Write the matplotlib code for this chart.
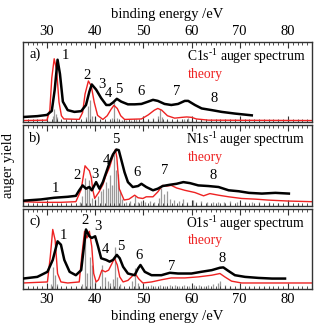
import numpy as np
import matplotlib.pyplot as plt
from matplotlib.ticker import MultipleLocator

plt.rcParams['font.family'] = ['Liberation Serif', 'DejaVu Serif']
plt.rcParams['mathtext.fontset'] = 'custom'
plt.rcParams['mathtext.rm'] = 'Liberation Serif'
plt.rcParams['mathtext.it'] = 'Liberation Serif:italic'

# ---- C1s^-1 spectrum ----
c_exp_e = [25, 28, 30, 31.0, 31.6, 32.2, 32.7, 33.3, 34.3, 35.7, 37.1, 38.1, 38.8, 39.3,
           40.2, 41.25, 42.3, 43.0, 43.7, 44.5, 45.4, 46.8, 48.2, 49.6, 51.0, 52.0, 53.0,
           54.4, 55.8, 57.2, 58.6, 59.3, 60.7, 62.1, 64.2, 66.25, 69.0, 72.5]
c_exp_y = [6.4, 7.5, 9, 14, 40, 77.8, 60, 25.6, 15, 12.8, 13.7, 21.4, 38, 47,
           40.6, 29.9, 21.4, 21.4, 24.4, 29.1, 25.6, 22.2, 22.2, 22.7, 25.6, 27.8, 26.5,
           22.7, 21.4, 22.7, 26.5, 26.5, 21.4, 17.1, 15, 12.8, 10.7, 8.5]
c_th_e = [25, 30.0, 30.6, 31.0, 31.5, 32.0, 32.5, 33.0, 33.5, 36.7, 37.4, 37.9, 38.6, 39.2,
          39.8, 40.5, 41.6, 42.5, 43.3, 43.9, 44.6, 45.3, 46.1, 49.6, 51.0, 52.3, 53.0,
          53.8, 55.0, 56.5, 58.0, 59.0, 60.0, 61.0, 63.5, 85]
c_th_y = [2, 2.5, 15, 55, 79, 65, 25, 8, 4, 3.5, 12, 35, 51.3, 45,
          25, 8.5, 3.4, 8, 16, 21, 17, 8, 3.4, 4, 9, 15, 17.1,
          15, 8, 5, 6, 6.5, 6, 4, 2.5, 2]
c_stick_e = [31.2, 31.5, 31.8, 32.1, 38.2, 38.6, 39.0, 39.4, 40.0, 43.5, 44.0, 44.6,
             45.5, 46.5, 47.5, 48.5, 50.0, 51.0, 52.0, 53.0, 53.4, 53.9, 55.0, 57.0,
             58.5, 59.3, 60.0, 62.0, 64.0, 66.0]
c_stick_h = [8, 17, 10, 6, 6, 20, 28, 8, 6, 5, 25, 5,
             3, 3, 3, 4, 3, 4, 5, 8, 17, 6, 3, 3,
             4, 5, 3, 3, 2, 2]

# ---- N1s^-1 spectrum ----
n_exp_e = [25, 28.75, 31.5, 34.3, 36.0, 36.7, 37.4, 38.1, 38.8, 39.3, 40.2, 40.9, 41.6,
           42.3, 43.0, 43.7, 44.4, 44.9, 45.4, 46.1, 46.8, 47.8, 48.9, 49.6, 50.6, 52.0,
           53.0, 54.0, 55.5, 56.9, 58.3, 59.7, 61.4, 63.5, 65.6, 67.7, 69.8, 71.9, 74.6,
           77.4, 80.2]
n_exp_y = [6.1, 7.7, 9.8, 11, 12.2, 19.1, 25.2, 21.1, 23.2, 19.1, 29.3, 21.1, 29.3,
           41.5, 53.7, 63.8, 69.9, 69.1, 57.7, 41.5, 29.3, 23.2, 24.4, 27.2, 23.2, 19.1,
           21.1, 24.4, 26, 27.2, 29.3, 28, 25.2, 24.4, 23.2, 19.1, 17.9, 15.9, 15,
           15.9, 15]
n_th_e = [25, 28.75, 32.9, 36.0, 37.1, 37.5, 37.9, 38.4, 38.8, 39.2, 39.5, 39.9, 40.8,
          41.6, 42.2, 43.0, 43.7, 44.2, 44.5, 45.0, 46.0, 47.0, 48.2, 48.9, 49.9, 50.6,
          52.0, 53.0, 54.0, 54.8, 55.8, 56.9, 58.6, 60.7, 62.5, 63.8, 65.6, 67.7, 70.4,
          73.2, 75.9, 80.1, 85]
n_th_y = [4.9, 4.1, 4.1, 4.9, 20, 35, 49.6, 46, 43.5, 35, 20, 9, 17,
          26, 37, 48, 62, 69.9, 60, 21, 7, 8, 13, 9.8, 8.9, 11,
          11, 17.1, 25.2, 24.4, 25.2, 22, 19.1, 16.3, 12.2, 15, 13, 11, 8.9,
          8.1, 6.9, 5.7, 4.9]
n_stick_e = [36.8, 37.3, 37.8, 38.3, 38.8, 39.3, 40.0, 40.6, 41.2, 41.7, 42.2, 42.6,
             43.1, 43.5, 44.0, 44.3, 44.7, 45.1, 45.6, 46.3, 47.2, 48.2, 48.8, 49.6,
             50.4, 51.3, 52.2, 53.2, 53.7, 54.2, 55.0, 55.6, 56.4, 57.3, 58.2, 59.1,
             60.2, 61.0, 62.0, 63.2, 64.4, 65.5, 66.8, 68.0, 69.5, 71.0, 72.5, 74.0,
             76.0, 78.0, 80.0, 82.0]
n_stick_h = [5, 12, 35, 24, 32, 10, 8, 12, 18, 21, 29, 22,
             38, 26, 64, 45, 40, 20, 8, 5, 6, 12, 5, 6,
             4, 6, 5, 10, 22, 14, 18, 8, 7, 6, 8, 5,
             7, 5, 6, 5, 4, 5, 4, 6, 4, 5, 4, 4,
             5, 3, 4, 3]

# ---- O1s^-1 spectrum ----
o_exp_e = [25, 28, 30.1, 31.2, 32.2, 32.9, 33.6, 34.7, 36.0, 37.1, 37.6, 38.1, 38.8,
           39.3, 40.0, 40.6, 41.25, 42.3, 43.0, 43.7, 44.5, 45.1, 45.8, 46.8, 48.2,
           48.9, 49.4, 50.3, 51.7, 53.75, 55.5, 57.2, 60.0, 62.0, 64.2, 65.9, 66.6,
           67.6, 69.0, 71.1, 73.9, 76.7, 79.4]
o_exp_y = [13.1, 15.2, 21.5, 36.3, 59.5, 55.3, 36.3, 21.5, 17.3, 23.6, 48.9, 74.3, 65.8,
           63.7, 65.8, 53.2, 38.4, 36.3, 34.2, 36.3, 42.6, 38.4, 27.8, 19.4, 17.3,
           25.7, 30, 21.5, 17.3, 17.3, 20.3, 19.4, 19.4, 21.5, 23.6, 26.6, 27,
           22.8, 17.3, 15.2, 13.9, 13.1, 13.1]
o_th_e = [25, 30.1, 30.7, 31.2, 31.7, 32.2, 32.9, 34.3, 36.7, 37.2, 37.8, 38.3, 38.8,
          39.3, 39.7, 40.2, 40.7, 41.4, 42.1, 42.8, 43.5, 44.0, 44.6, 45.1, 45.8, 46.8,
          47.9, 48.3, 49.0, 49.9, 51.7, 53.75, 55.8, 58.6, 61.4, 64.2, 65.9, 66.9, 68.3,
          70.4, 85]
o_th_y = [7.6, 8.9, 41, 74.3, 61, 19.4, 8.9, 7.6, 8.9, 40, 72, 63.7, 72,
          53, 19.4, 8.9, 11.6, 23.6, 21.5, 23.6, 32, 38.4, 30, 15.2, 8.9, 10.8,
          17.3, 19.4, 13, 7.6, 8.9, 11.6, 13.9, 13.9, 15.2, 17.3, 19.4, 15.2, 9.9,
          7.6, 7.6]
o_stick_e = [30.9, 31.3, 31.7, 32.1, 37.3, 37.9, 38.4, 38.9, 39.4, 40.0, 41.5, 42.1,
             42.6, 43.1, 43.6, 44.1, 44.6, 45.2, 47.6, 48.2, 48.8, 50.5, 51.5, 52.5,
             53.5, 54.5, 55.5, 56.5, 57.5, 58.5, 59.5, 60.5, 61.5, 62.5, 63.5, 64.5,
             65.5, 66.0, 67.0, 68.0, 70.0, 72.0, 75.0]
o_stick_h = [6, 28, 18, 6, 6, 72, 20, 40, 30, 10, 30, 15,
             10, 8, 12, 53, 15, 6, 10, 26, 8, 4, 5, 4,
             5, 4, 5, 5, 4, 5, 4, 5, 5, 4, 5, 6,
             8, 10, 5, 4, 3, 3, 2]

panel_tags = ['a)', 'b)', 'c)']
core_names = ['C1s$^{\\text{-}1}$ auger spectrum', 'N1s$^{\\text{-}1}$ auger spectrum',
              'O1s$^{\\text{-}1}$ auger spectrum']

# numbered peak labels (energy, height) per panel
peak_pos = [
    [(33.8, 83), (38.3, 57.7), (41.4, 47), (42.8, 35.5), (44.9, 40.6), (49.6, 38.5),
     (56.9, 38.5), (64.7, 30)],
    [(31.7, 21), (36.25, 37.4), (40.0, 39.4), (42.3, 55.7), (44.2, 82), (48.75, 41.5),
     (54.4, 43.5), (64.5, 37.4)],
    [(33.5, 66.7), (37.8, 86), (40.6, 78.5), (42.2, 49), (45.4, 53), (49.2, 41.4),
     (55.8, 28.7), (66.4, 38.4)],
]

spectra = [
    (c_exp_e, c_exp_y, c_th_e, c_th_y, c_stick_e, c_stick_h),
    (n_exp_e, n_exp_y, n_th_e, n_th_y, n_stick_e, n_stick_h),
    (o_exp_e, o_exp_y, o_th_e, o_th_y, o_stick_e, o_stick_h),
]

fig = plt.figure(figsize=(3.22, 3.30), dpi=100)
gs = fig.add_gridspec(3, 1, left=0.071, right=0.969, top=0.873, bottom=0.124, hspace=0.04)

fs_axis = 10.5   # tick labels, axis labels, peak numbers
fs_note = 9.8    # in-panel captions
red = '#ee2222'
for i, (ee, ey, te, ty, se, sh) in enumerate(spectra):
    ax = fig.add_subplot(gs[i])
    ax.vlines(se, 0, sh, color='#9a9a9a', linewidth=0.9, zorder=1)
    ax.plot(te, ty, color=red, linewidth=1.0, zorder=2)
    ax.plot(ee, ey, color='black', linewidth=1.8, zorder=3)

    ax.set_xlim(25, 85)
    ax.set_ylim(0, 100)
    ax.set_yticks([])
    ax.xaxis.set_major_locator(MultipleLocator(10))
    ax.xaxis.set_minor_locator(MultipleLocator(1))
    ax.tick_params(axis='x', which='both', direction='in', top=True, bottom=True,
                   labelsize=fs_axis, colors='#333333', labelcolor='black')
    ax.tick_params(axis='x', which='major', length=4, width=0.8)
    ax.tick_params(axis='x', which='minor', length=2, width=0.6)
    for sp in ax.spines.values():
        sp.set_linewidth(1.0)
        sp.set_color('#333333')

    if i == 0:
        ax.xaxis.set_label_position('top')
        ax.tick_params(axis='x', labeltop=True, labelbottom=False, pad=3)
        ax.set_xlabel('binding energy /eV', fontsize=fs_axis, labelpad=5)
    elif i == 2:
        ax.tick_params(axis='x', labelbottom=True, pad=3)
        ax.set_xlabel('binding energy /eV', fontsize=fs_axis, labelpad=3)
    else:
        ax.tick_params(axis='x', labelbottom=False)

    ax.text(0.022, 0.84, panel_tags[i], transform=ax.transAxes, fontsize=fs_axis,
            ha='left', va='center')
    ax.text(0.978, 0.82, core_names[i], transform=ax.transAxes, fontsize=fs_note,
            ha='right', va='center')
    ax.text(0.57, 0.6, 'theory', transform=ax.transAxes, fontsize=fs_note,
            ha='left', va='center', color=red)
    for k, (px, py) in enumerate(peak_pos[i]):
        ax.text(px, py, str(k + 1), fontsize=fs_axis, ha='center', va='center')

fig.text(0.027, 0.5, 'auger yield', rotation=90, fontsize=fs_axis, ha='center', va='center')

fig.savefig('out.png', dpi=100)
